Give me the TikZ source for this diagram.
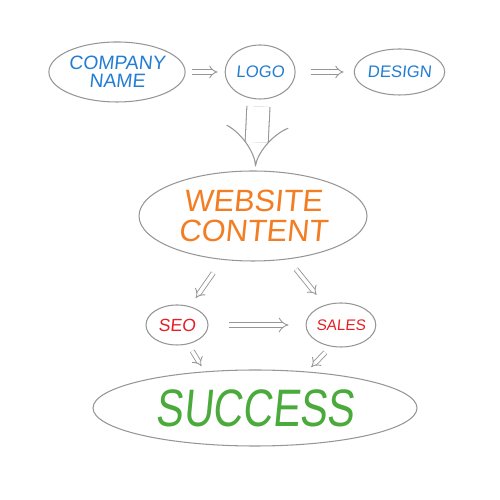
\documentclass[tikz,border=0pt]{standalone}
\usepackage{fontspec}
\newfontfamily\handfont[FakeSlant=0.1]{Liberation Sans}
\newfontfamily\handnarrow[FakeSlant=0.1,FakeStretch=0.78]{Liberation Sans}
\usepackage{tikz}
\usetikzlibrary{arrows.meta,shapes.geometric}
\usetikzlibrary{positioning}
\definecolor{pengray}{RGB}{150,150,150}
\definecolor{penblue}{RGB}{35,125,210}
\definecolor{penorange}{RGB}{242,125,35}
\definecolor{penred}{RGB}{230,30,35}
\definecolor{pengreen}{RGB}{75,170,60}
\tikzstyle{bubble} = [ellipse, draw=pengray, line width=0.6pt, inner sep=0pt, align=center]
\tikzstyle{flow} = [draw=pengray, line width=0.5pt, double distance=2pt, -{Implies[length=3.5pt,width=8pt]}]
\tikzstyle{bigflow} = [draw=pengray, line width=0.6pt, double distance=0.44cm, -{Implies[length=0.5cm,width=1.3cm]}]

\begin{document}
\begin{tikzpicture}[node distance=1cm]
\useasboundingbox (0,0) rectangle (10,10);

\node (company) [bubble, minimum width=2.56cm, minimum height=1.2cm, text=penblue,
  font=\handfont\fontsize{11}{10.5}\selectfont] at (2.34,8.56) {COMPANY\\NAME};
\node (logo) [bubble, minimum width=1.4cm, minimum height=1.08cm, text=penblue,
  font=\handfont\fontsize{9.5}{10}\selectfont, right=0.78cm of company] {LOGO};
\node (design) [bubble, minimum width=1.8cm, minimum height=0.92cm, text=penblue,
  font=\handfont\fontsize{9.5}{10}\selectfont, right=1.16cm of logo] {DESIGN};

\node (website) [bubble, minimum width=4.56cm, minimum height=1.8cm, text=penorange,
  font=\handfont\fontsize{17.5}{17}\selectfont] at (5.06,5.68) {WEBSITE\\CONTENT};

\node (seo) [bubble, minimum width=1.24cm, minimum height=0.8cm, text=penred,
  font=\handfont\fontsize{10}{10}\selectfont] at (3.54,3.50) {SEO};
\node (sales) [bubble, minimum width=1.24cm, minimum height=0.88cm, text=penred,
  font=\handfont\fontsize{8.7}{10}\selectfont, right=1.94cm of seo] {SALES};

\node (success) [bubble, minimum width=6.48cm, minimum height=1.52cm, text=pengreen,
  font=\handnarrow\fontsize{30}{30}\selectfont] at (5.10,1.84) {SUCCESS};

% arrows
\draw[flow, shorten <=0.12cm, shorten >=0.14cm] (company) -- (logo);
\draw[flow, shorten <=0.3cm, shorten >=0.2cm] (logo) -- (design);
\draw[bigflow, shorten <=0.14cm, shorten >=0.08cm] (logo) -- (website);
\draw[flow, shorten <=0.32cm, shorten >=0.2cm] (website) -- (seo);
\draw[flow, shorten <=0.25cm, shorten >=0.26cm] (website) -- (sales);
\draw[flow, double distance=2.5pt, -{Implies[length=5pt,width=11pt]}, shorten <=0.4cm, shorten >=0.34cm] (seo) -- (sales);
\draw[flow, shorten <=0.16cm, shorten >=0.12cm] (seo.-60) -- (success.144);
\draw[flow, shorten <=0.16cm, shorten >=0.12cm] (sales.-115) -- (success.35);
\end{tikzpicture}
\end{document}
